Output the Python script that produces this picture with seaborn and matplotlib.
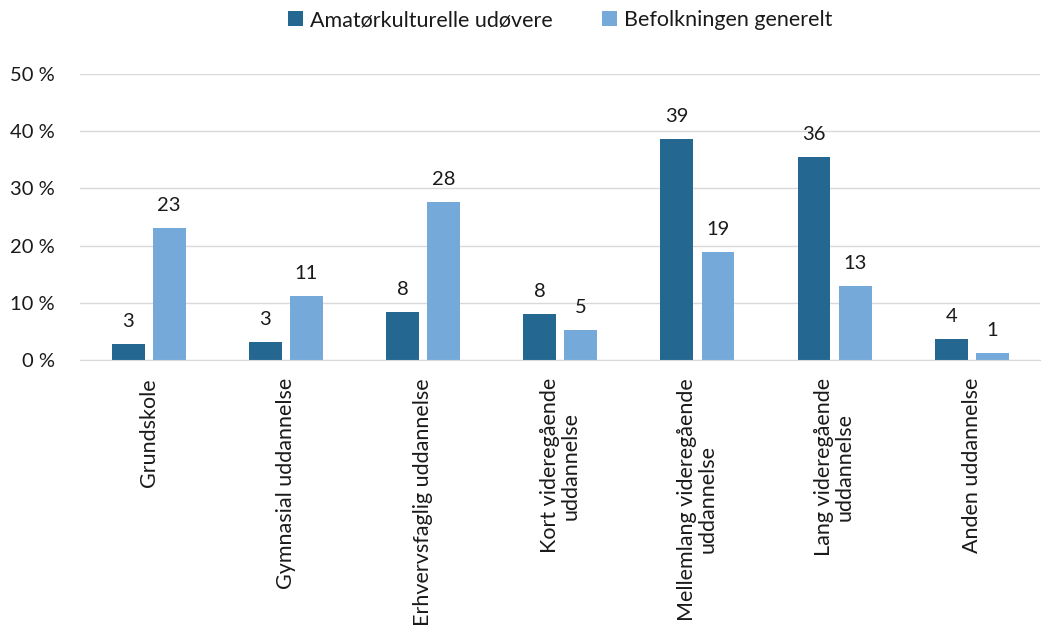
import pandas as pd
import matplotlib.pyplot as plt
import seaborn as sns

# data
kategorier = ['Grundskole', 'Gymnasial uddannelse', 'Erhvervsfaglig uddannelse',
              'Kort videregående\nuddannelse', 'Mellemlang videregående\nuddannelse',
              'Lang videregående\nuddannelse', 'Anden uddannelse']
amatoer = [2.8, 3.2, 8.4, 8.0, 38.6, 35.5, 3.6]
befolkning = [23.1, 11.2, 27.6, 5.3, 18.9, 13.0, 1.3]
serier = ['Amatørkulturelle udøvere', 'Befolkningen generelt']
farver = ['#246791', '#75A9D9']

df = pd.DataFrame({
    'Kategori': kategorier * 2,
    'Andel': amatoer + befolkning,
    'Serie': [serier[0]] * len(kategorier) + [serier[1]] * len(kategorier),
})

sns.set_style('white')
plt.rcParams['font.family'] = ['Lato', 'DejaVu Sans']
fs = 15.5
fs_num = 14.5

fig = plt.figure(figsize=(10.53, 6.31), dpi=100)
ax = fig.add_axes([0.076, 0.4295, 0.912, 0.4535])

sns.barplot(data=df, x='Kategori', y='Andel', hue='Serie', palette=farver,
            width=0.6, gap=0.2, ax=ax, saturation=1, linewidth=0)

for c in ax.containers:
    ax.bar_label(c, labels=[f'{v:.0f}' for v in c.datavalues], padding=10,
                 fontsize=fs_num, color='#1a1a1a')

ax.set_ylim(0, 50)
ax.set_yticks(range(0, 51, 10))
ax.set_yticklabels([f'{t} %' for t in range(0, 51, 10)], fontsize=fs_num, color='#1a1a1a')
ax.set_xticks(range(len(kategorier)))
ax.set_xticklabels(kategorier, rotation=90, fontsize=fs, ha='center', va='top',
                   multialignment='center', color='#1a1a1a', linespacing=1.05)
ax.set_xlabel('')
ax.set_ylabel('')
ax.yaxis.grid(True, color='#D9D9D9', linewidth=1)
ax.set_axisbelow(True)
for s in ['top', 'right', 'left']:
    ax.spines[s].set_visible(False)
ax.spines['bottom'].set_color('#D9D9D9')
ax.tick_params(axis='y', length=0, pad=18)
ax.tick_params(axis='x', length=0, pad=13)

ax.legend(loc='lower center', bbox_to_anchor=(0.5, 1.085), ncol=2, frameon=False,
          fontsize=fs, handlelength=0.7, handleheight=0.7, handletextpad=0.3,
          columnspacing=2.3, labelcolor='#1a1a1a')

fig.savefig('out.png', dpi=100)
